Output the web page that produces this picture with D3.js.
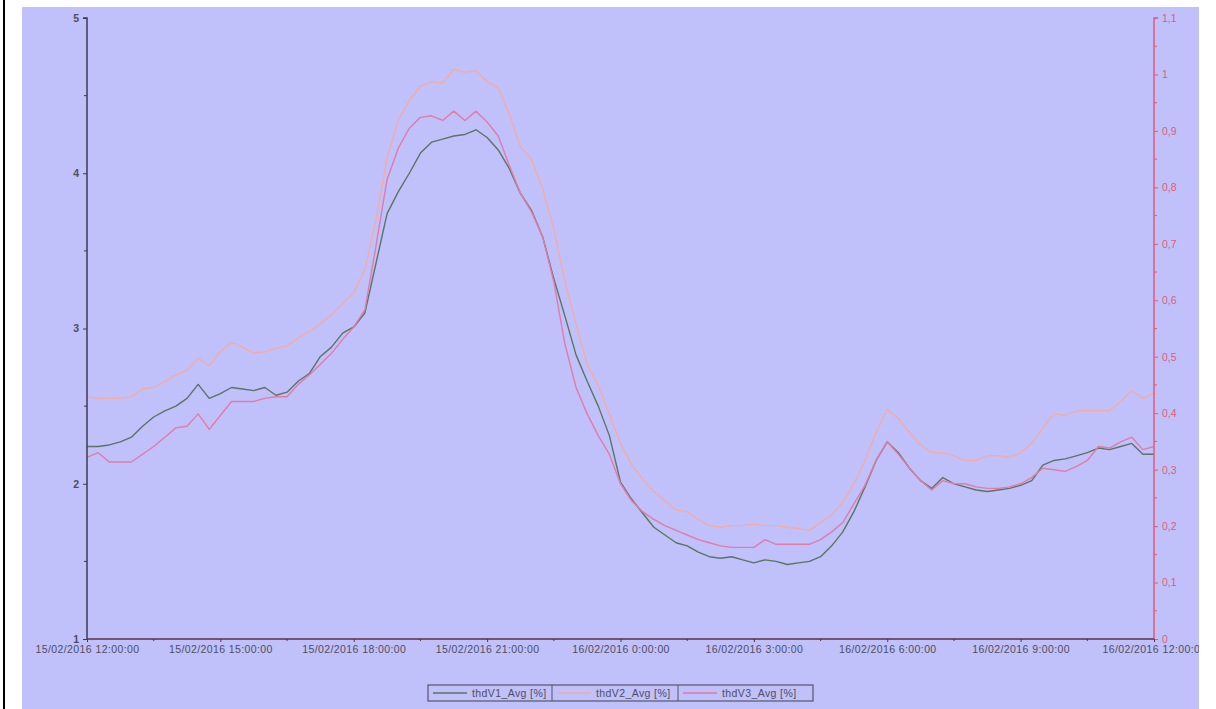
<!DOCTYPE html>
<html>
<head>
<meta charset="utf-8">
<script src="https://cdn.jsdelivr.net/npm/d3@7"></script>
<style>
  html, body { margin: 0; padding: 0; background: #ffffff; }
  svg { display: block; }
  text { font-family: "Liberation Sans", Arial, sans-serif; }
</style>
</head>
<body>
<svg id="chart" width="1216" height="709"></svg>
<script>
// Sample timestamps (15-minute averages), day/month hour:minute, year 2016
const sampleTimes = [
  "15/02 12:00", "15/02 12:15", "15/02 12:30", "15/02 12:45", "15/02 13:00", "15/02 13:15", "15/02 13:30", "15/02 13:45",
  "15/02 14:00", "15/02 14:15", "15/02 14:30", "15/02 14:45", "15/02 15:00", "15/02 15:15", "15/02 15:30", "15/02 15:45",
  "15/02 16:00", "15/02 16:15", "15/02 16:30", "15/02 16:45", "15/02 17:00", "15/02 17:15", "15/02 17:30", "15/02 17:45",
  "15/02 18:00", "15/02 18:15", "15/02 18:30", "15/02 18:45", "15/02 19:00", "15/02 19:15", "15/02 19:30", "15/02 19:45",
  "15/02 20:00", "15/02 20:15", "15/02 20:30", "15/02 20:45", "15/02 21:00", "15/02 21:15", "15/02 21:30", "15/02 21:45",
  "15/02 22:00", "15/02 22:15", "15/02 22:30", "15/02 22:45", "15/02 23:00", "15/02 23:15", "15/02 23:30", "15/02 23:45",
  "16/02 00:00", "16/02 00:15", "16/02 00:30", "16/02 00:45", "16/02 01:00", "16/02 01:15", "16/02 01:30", "16/02 01:45",
  "16/02 02:00", "16/02 02:15", "16/02 02:30", "16/02 02:45", "16/02 03:00", "16/02 03:15", "16/02 03:30", "16/02 03:45",
  "16/02 04:00", "16/02 04:15", "16/02 04:30", "16/02 04:45", "16/02 05:00", "16/02 05:15", "16/02 05:30", "16/02 05:45",
  "16/02 06:00", "16/02 06:15", "16/02 06:30", "16/02 06:45", "16/02 07:00", "16/02 07:15", "16/02 07:30", "16/02 07:45",
  "16/02 08:00", "16/02 08:15", "16/02 08:30", "16/02 08:45", "16/02 09:00", "16/02 09:15", "16/02 09:30", "16/02 09:45",
  "16/02 10:00", "16/02 10:15", "16/02 10:30", "16/02 10:45", "16/02 11:00", "16/02 11:15", "16/02 11:30", "16/02 11:45",
  "16/02 12:00"
];

const thdV1 = [
  2.24, 2.24, 2.25, 2.27, 2.30, 2.37, 2.43, 2.47, 2.50, 2.55, 2.64, 2.55,
  2.58, 2.62, 2.61, 2.60, 2.62, 2.57, 2.59, 2.66, 2.71, 2.82, 2.88, 2.97,
  3.01, 3.10, 3.42, 3.74, 3.88, 4.00, 4.13, 4.20, 4.22, 4.24, 4.25, 4.28,
  4.23, 4.15, 4.03, 3.87, 3.76, 3.59, 3.32, 3.08, 2.83, 2.66, 2.50, 2.31,
  2.01, 1.90, 1.81, 1.72, 1.67, 1.62, 1.60, 1.56, 1.53, 1.52, 1.53, 1.51,
  1.49, 1.51, 1.50, 1.48, 1.49, 1.50, 1.53, 1.60, 1.69, 1.82, 1.98, 2.15,
  2.27, 2.20, 2.10, 2.02, 1.97, 2.04, 2.00, 1.98, 1.96, 1.95, 1.96, 1.97,
  1.99, 2.02, 2.12, 2.15, 2.16, 2.18, 2.20, 2.23, 2.22, 2.24, 2.26, 2.19,
  2.19
];

const thdV2 = [
  2.56, 2.55, 2.55, 2.55, 2.56, 2.61, 2.62, 2.66, 2.70, 2.73, 2.81, 2.76,
  2.85, 2.91, 2.88, 2.84, 2.85, 2.87, 2.89, 2.94, 2.98, 3.03, 3.09, 3.16,
  3.23, 3.38, 3.70, 4.10, 4.34, 4.47, 4.56, 4.59, 4.58, 4.67, 4.65, 4.66,
  4.59, 4.55, 4.38, 4.17, 4.09, 3.90, 3.64, 3.30, 3.03, 2.77, 2.63, 2.45,
  2.26, 2.12, 2.03, 1.95, 1.89, 1.83, 1.82, 1.77, 1.73, 1.72, 1.73, 1.73,
  1.74, 1.73, 1.73, 1.72, 1.71, 1.70, 1.75, 1.80, 1.88, 2.00, 2.15, 2.33,
  2.48, 2.42, 2.33, 2.25, 2.20, 2.20, 2.18, 2.15, 2.15, 2.18, 2.18, 2.17,
  2.20, 2.26, 2.36, 2.45, 2.44, 2.47, 2.47, 2.47, 2.47, 2.53, 2.60, 2.55,
  2.58
];

const thdV3 = [
  2.17, 2.20, 2.14, 2.14, 2.14, 2.19, 2.24, 2.30, 2.36, 2.37, 2.45, 2.35,
  2.44, 2.53, 2.53, 2.53, 2.55, 2.56, 2.56, 2.64, 2.70, 2.77, 2.84, 2.93,
  3.01, 3.12, 3.53, 3.96, 4.16, 4.29, 4.36, 4.37, 4.34, 4.40, 4.34, 4.40,
  4.33, 4.24, 4.05, 3.87, 3.75, 3.59, 3.30, 2.90, 2.62, 2.45, 2.31, 2.19,
  2.00, 1.89, 1.82, 1.77, 1.73, 1.70, 1.67, 1.64, 1.62, 1.60, 1.59, 1.59,
  1.59, 1.64, 1.61, 1.61, 1.61, 1.61, 1.64, 1.69, 1.75, 1.87, 1.99, 2.15,
  2.27, 2.19, 2.10, 2.02, 1.96, 2.02, 2.00, 2.00, 1.98, 1.97, 1.97, 1.98,
  2.00, 2.04, 2.10, 2.09, 2.08, 2.11, 2.15, 2.24, 2.23, 2.27, 2.30, 2.22,
  2.24
];

const seriesNames = ["thdV1_Avg [%]", "thdV2_Avg [%]", "thdV3_Avg [%]"];
const seriesColors = ["#5a7563", "#f4aba3", "#e27ba6"];

const leftTicks = [1, 2, 3, 4, 5];
const rightTicks = [0, 0.1, 0.2, 0.3, 0.4, 0.5, 0.6, 0.7, 0.8, 0.9, 1, 1.1];

const svg = d3.select("#chart");
const W = 1216, H = 709;
const plot = { left: 87, right: 1154, top: 18, bottom: 639 };

const parseT = d3.timeParse("%d/%m/%Y %H:%M");
const times = sampleTimes.map(s => parseT(s.replace(" ", "/2016 ")));

// background panel and left rule
svg.append("rect").attr("x", 3).attr("y", 0).attr("width", 2).attr("height", H).attr("fill", "#000");
svg.append("rect").attr("x", 22).attr("y", 7).attr("width", 1177).attr("height", H - 7).attr("fill", "#c0c0fb");

const x = d3.scaleTime().domain([times[0], times[times.length - 1]]).range([plot.left, plot.right]);
const yL = d3.scaleLinear().domain([1, 5]).range([plot.bottom, plot.top]);
const yR = d3.scaleLinear().domain([0, 1.1]).range([plot.bottom, plot.top]);

// series lines
const seriesData = [thdV1, thdV2, thdV3];
const line = d3.line().x((d, i) => x(times[i])).y(d => yL(d));
seriesData.forEach((vals, k) => {
  svg.append("path")
    .datum(vals)
    .attr("d", line)
    .attr("fill", "none")
    .attr("stroke", seriesColors[k])
    .attr("stroke-width", 1.4)
    .attr("stroke-linejoin", "round");
});

const labelFill = "#4e4e60";
const labelFont = 10.5;

// left axis
const leftColor = "#3c3c4c";
const leftAxis = d3.axisLeft(yL).tickValues(leftTicks).tickSize(4).tickPadding(4).tickFormat(d3.format("d"));
const gL = svg.append("g").attr("transform", `translate(${plot.left},0)`).call(leftAxis);
gL.select(".domain").attr("stroke", leftColor).attr("stroke-width", 1.5).attr("d", `M-4,${plot.top}H0V${plot.bottom}`);
gL.selectAll(".tick line").attr("stroke", leftColor);
gL.selectAll(".tick text").attr("fill", labelFill).attr("font-size", labelFont).attr("font-weight", "bold");
gL.selectAll(".minor")
  .data([1.5, 2.5, 3.5, 4.5])
  .enter().append("line")
  .attr("x1", -3).attr("x2", 0)
  .attr("y1", d => yL(d)).attr("y2", d => yL(d))
  .attr("stroke", leftColor);

// right axis
const rightColor = "#e45a78";
const commaFmt = d => (Math.round(d * 10) / 10).toString().replace(".", ",");
const rightAxis = d3.axisRight(yR).tickValues(rightTicks).tickSize(4).tickPadding(4).tickFormat(commaFmt);
const gR = svg.append("g").attr("transform", `translate(${plot.right},0)`).call(rightAxis);
gR.select(".domain").attr("stroke", rightColor).attr("stroke-width", 1.5).attr("d", `M4,${plot.top}H0V${plot.bottom}`);
gR.selectAll(".tick line").attr("stroke", rightColor);
gR.selectAll(".tick text").attr("fill", rightColor).attr("font-size", labelFont);
gR.selectAll(".minor")
  .data(d3.range(0.05, 1.1, 0.1))
  .enter().append("line")
  .attr("x1", 0).attr("x2", 3)
  .attr("y1", d => yR(d)).attr("y2", d => yR(d))
  .attr("stroke", rightColor);

// bottom axis
const bottomColor = "#5e3040";
const fmtTime = d3.timeFormat("%d/%m/%Y %-H:%M:%S");
const majorTimes = times.filter(t => t.getMinutes() === 0 && t.getHours() % 3 === 0);
const bottomAxis = d3.axisBottom(x).tickValues(majorTimes).tickSize(3).tickPadding(4).tickFormat(fmtTime);
const gB = svg.append("g").attr("transform", `translate(0,${plot.bottom})`).call(bottomAxis);
gB.select(".domain").attr("stroke", bottomColor).attr("stroke-width", 1.5).attr("d", `M${plot.left},0H${plot.right}`);
gB.selectAll(".tick line").attr("stroke", bottomColor);
gB.selectAll(".tick text").attr("fill", labelFill).attr("font-size", labelFont).attr("letter-spacing", 0.4);
const minorTimes = times.filter(t => t.getMinutes() === 30 && t.getHours() % 3 === 1);
gB.selectAll(".minor")
  .data(minorTimes)
  .enter().append("line")
  .attr("x1", d => x(d)).attr("x2", d => x(d))
  .attr("y1", 0).attr("y2", 2)
  .attr("stroke", bottomColor);

// legend
const legendCells = [
  { x: 428, w: 124 },
  { x: 552, w: 126 },
  { x: 678, w: 135 }
];
const lg = svg.append("g");
lg.append("rect").attr("x", 428).attr("y", 685).attr("width", 385).attr("height", 16)
  .attr("fill", "none").attr("stroke", "#555566").attr("stroke-width", 1.2);
legendCells.forEach((c, k) => {
  if (k > 0) {
    lg.append("line").attr("x1", c.x).attr("x2", c.x).attr("y1", 685).attr("y2", 701)
      .attr("stroke", "#555566").attr("stroke-width", 1);
  }
  lg.append("line").attr("x1", c.x + 5).attr("x2", c.x + 39).attr("y1", 693).attr("y2", 693)
    .attr("stroke", seriesColors[k]).attr("stroke-width", 1.5);
  lg.append("text").attr("x", c.x + 44).attr("y", 697).attr("font-size", labelFont)
    .attr("letter-spacing", 0.4).attr("fill", labelFill).text(seriesNames[k]);
});

// trim anything past the panel's right edge
svg.append("rect").attr("x", 1199).attr("y", 0).attr("width", W - 1199).attr("height", H).attr("fill", "#ffffff");
svg.append("rect").attr("x", 22).attr("y", 0).attr("width", 1177).attr("height", 7).attr("fill", "#ffffff");
</script>
</body>
</html>
